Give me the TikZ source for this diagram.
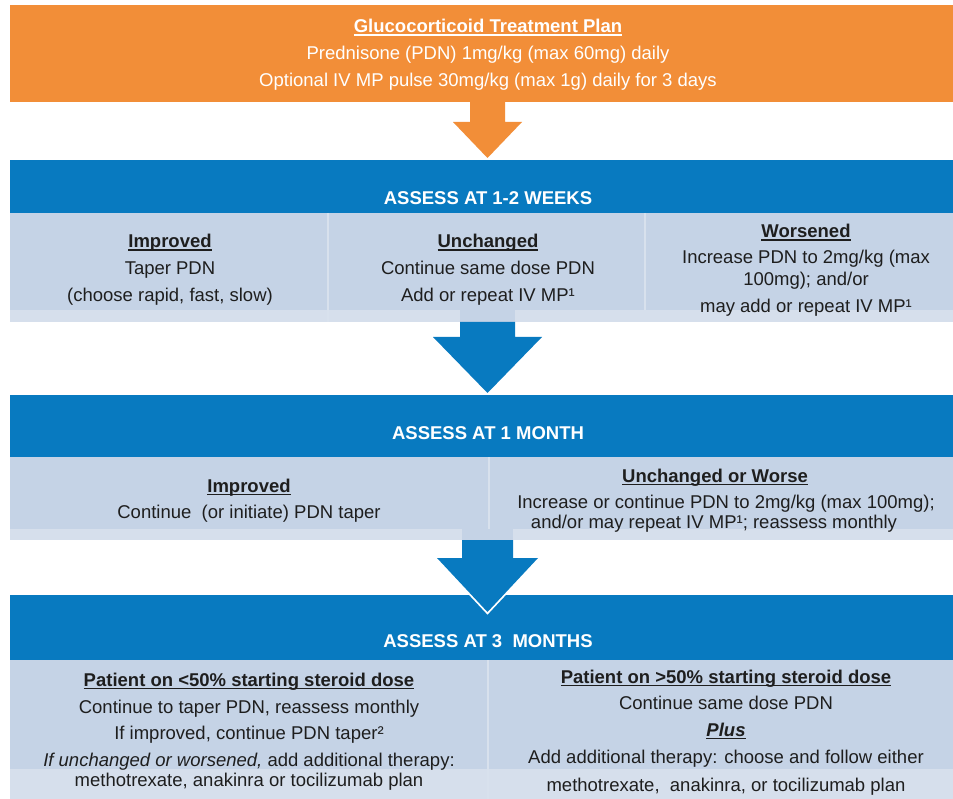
\documentclass[tikz,border=0pt]{standalone}
\usepackage{fontspec}
\setmainfont{Liberation Sans}

% underline at a fixed depth below the baseline
\newcommand{\undl}[1]{\setbox0\hbox{#1}\rlap{\rule[-2.8pt]{\wd0}{1.3pt}}\box0}

\definecolor{planorange}{RGB}{242,142,56}
\definecolor{headblue}{RGB}{8,122,192}
\definecolor{panelgrey}{RGB}{197,211,230}
\definecolor{stripgrey}{RGB}{214,223,236}
\definecolor{divline}{RGB}{216,225,237}
\definecolor{ink}{RGB}{30,30,30}

\tikzset{
  txt/.style={anchor=base, inner sep=0pt, text=ink,
              font=\fontsize{18.5}{22}\selectfont},
  toptxt/.style={txt, text=white},
  hdrtxt/.style={anchor=base, inner sep=0pt, text=white,
                 font=\fontsize{18.5}{22}\selectfont\bfseries},
  ttl/.style={txt, font=\fontsize{18.5}{22}\selectfont\bfseries},
}

\begin{document}
\begin{tikzpicture}[x=1pt,y=-1pt]
\useasboundingbox (0,0) rectangle (953,799);
\fill[white] (0,0) rectangle (953,799);

% ---------- initial plan ----------
\fill[planorange] (10,5) rectangle (953,102);
\fill[planorange] (470,101) -- (505,101) -- (505,122) -- (522,122)
   -- (487.5,158) -- (453,122) -- (470,122) -- cycle;
\node[toptxt, font=\fontsize{18.5}{22}\selectfont\bfseries] (plan) at (488,33) {\undl{Glucocorticoid Treatment Plan}};
\node[toptxt] (planA) at (488,60) {Prednisone (PDN) 1mg/kg (max 60mg) daily};
\node[toptxt] (planB) at (488,87) {Optional IV MP pulse 30mg/kg (max 1g) daily for 3 days};

% ---------- assessment at 1-2 weeks ----------
\fill[headblue] (10,160) rectangle (953,213);
\fill[panelgrey] (10,213) rectangle (953,322);
\fill[stripgrey] (10,310) rectangle (953,322);
\fill[panelgrey] (460,310) rectangle (515,322);
\draw[divline, line width=1.2pt] (328,213) -- (328,322) (645,213) -- (645,310);
\node[hdrtxt] (wk) at (488,205) {ASSESS AT 1-2 WEEKS};

\node[ttl] (wkA0) at (170,248) {\undl{Improved}};
\node[txt] (wkA1) at (170,275) {Taper PDN};
\node[txt] (wkA2) at (170,302) {(choose rapid, fast, slow)};

\node[ttl] (wkB0) at (488,248) {\undl{Unchanged}};
\node[txt] (wkB1) at (488,275) {Continue same dose PDN};
\node[txt] (wkB2) at (488,302) {Add or repeat IV MP¹};

\node[ttl] (wkC0) at (806,238) {\undl{Worsened}};
\node[txt] (wkC1) at (806,264) {Increase PDN to 2mg/kg (max};
\node[txt] (wkC2) at (806,286) {100mg); and/or};
\node[txt] (wkC3) at (806,313) {may add or repeat IV MP¹};

\fill[headblue] (460,322) -- (515,322) -- (515,337) -- (542,337)
   -- (487.5,393) -- (433,337) -- (460,337) -- cycle;

% ---------- assessment at 1 month ----------
\fill[headblue] (10,395) rectangle (953,457);
\fill[panelgrey] (10,457) rectangle (953,540);
\fill[stripgrey] (10,529) rectangle (953,540);
\fill[panelgrey] (462,529) rectangle (513,540);
\draw[divline, line width=1.2pt] (489,457) -- (489,529);
\node[hdrtxt] (mo) at (488,439) {ASSESS AT 1 MONTH};

\node[ttl] (moA0) at (249,492) {\undl{Improved}};
\node[txt] (moA1) at (249,518) {Continue\ \ (or initiate) PDN taper};

\node[ttl] (moB0) at (715,482) {\undl{Unchanged or Worse}};
\node[txt] (moB1) at (726,508) {Increase or continue PDN to 2mg/kg (max 100mg);};
\node[txt] (moB2) at (714,528) {and/or may repeat IV MP¹; reassess monthly};

% ---------- assessment at 3 months ----------
\fill[headblue] (10,595) rectangle (953,660);
\fill[panelgrey] (10,660) rectangle (953,799);
\fill[stripgrey] (10,769) rectangle (953,799);
\draw[divline, line width=1.2pt] (488,660) -- (488,799);
\node[hdrtxt] (tm) at (488,647) {ASSESS AT 3\ \ MONTHS};

% arrow into the 3-month header, edged in white where it overlaps
\draw[white, line width=3.6pt, line join=miter]
   (437,558) -- (487.5,612) -- (538,558);
\fill[headblue]
   (462,540) -- (513,540) -- (513,558) -- (538,558)
   -- (487.5,612) -- (437,558) -- (462,558) -- cycle;

\node[ttl] (tmA0) at (249,686) {\undl{Patient on <50\% starting steroid dose}};
\node[txt] (tmA1) at (249,713) {Continue to taper PDN, reassess monthly};
\node[txt] (tmA2) at (249,739) {If improved, continue PDN taper²};
\node[txt] (tmA3) at (249,766) {\textit{If unchanged or worsened,} add additional therapy:};
\node[txt] (tmA4) at (249,786) {methotrexate, anakinra or tocilizumab plan};

\node[ttl] (tmB0) at (726,683) {\undl{Patient on >50\% starting steroid dose}};
\node[txt] (tmB1) at (726,709) {Continue same dose PDN};
\node[ttl] (tmB2) at (726,736) {\undl{\textit{Plus}}};
\node[txt] (tmB3) at (726,763) {Add additional therapy: choose and follow either};
\node[txt] (tmB4) at (726,791) {methotrexate,\ \ anakinra, or tocilizumab plan};
\end{tikzpicture}
\end{document}
